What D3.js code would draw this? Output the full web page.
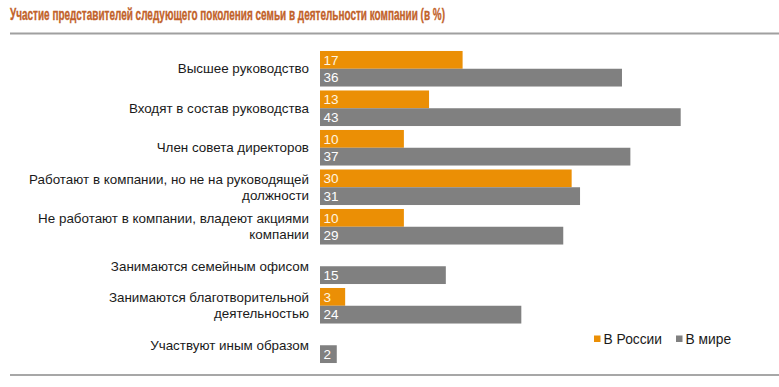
<!DOCTYPE html>
<html><head><meta charset="utf-8">
<script src="https://cdn.jsdelivr.net/npm/d3@7"></script>
<style>
html,body{margin:0;padding:0;background:#fff;}
svg{display:block;}
</style></head>
<body>
<svg id="chart" width="779" height="387"></svg>
<script>
const title = "Участие представителей следующего поколения семьи в деятельности компании (в %)";
const categories = [
  ["Высшее руководство"],
  ["Входят в состав руководства"],
  ["Член совета директоров"],
  ["Работают в компании, но не на руководящей", "должности"],
  ["Не работают в компании, владеют акциями", "компании"],
  ["Занимаются семейным офисом"],
  ["Занимаются благотворительной", "деятельностью"],
  ["Участвуют иным образом"]
];
const seriesNames = ["В России", "В мире"];
const russia = [17, 13, 10, 30, 10, null, 3, null];
const world = [36, 43, 37, 31, 29, 15, 24, 2];
const colors = ["#EB8F05", "#808080"];

const svg = d3.select("#chart");
const keys = categories.map((c, i) => "c" + i);

const x = d3.scaleLinear().domain([0, 43]).range([320, 680.7]);
const y = d3.scaleBand().domain(keys).range([49, 365]).paddingInner(0.1).paddingOuter(0.05);
const ySub = d3.scaleBand().domain([0, 1]).range([0, y.bandwidth()]);

// title
svg.append("text").attr("x", 10).attr("y", 20)
  .attr("font-family", "'Liberation Sans',Arial,sans-serif")
  .attr("font-weight", "bold").attr("font-size", 16.5).attr("fill", "#C2622A")
  .attr("stroke", "#C2622A").attr("stroke-width", 0.35)
  .attr("textLength", 435).attr("lengthAdjust", "spacingAndGlyphs")
  .text(title);
svg.append("line").attr("x1", 10).attr("x2", 779).attr("y1", 33.5).attr("y2", 33.5)
  .attr("stroke", "#a0a0a0").attr("stroke-width", 2);
svg.append("line").attr("x1", 10).attr("x2", 779).attr("y1", 375).attr("y2", 375)
  .attr("stroke", "#8a8a8a").attr("stroke-width", 1.5);

const rows = categories.map((c, i) => ({key: keys[i], label: c, vals: [russia[i], world[i]]}));

const g = svg.append("g");
rows.forEach(r => {
  r.vals.forEach((v, s) => {
    if (v == null) return;
    const y0 = y(r.key) + ySub(s);
    g.append("rect").attr("x", x(0)).attr("y", y0)
      .attr("width", x(v) - x(0)).attr("height", ySub.bandwidth())
      .attr("fill", colors[s]);
    g.append("text").attr("x", x(0) + 3.5).attr("y", y0 + ySub.bandwidth() / 2)
      .attr("dy", "0.36em")
      .attr("font-family", "'Liberation Sans',Arial,sans-serif").attr("font-size", 13.5)
      .attr("fill", s === 0 ? "#FFF6E0" : "#ffffff").text(v);
  });
  const cy = y(r.key) + y.bandwidth() / 2;
  const lh = 16;
  const n = r.label.length;
  r.label.forEach((line, li) => {
    g.append("text").attr("x", 309).attr("y", cy + (li - (n - 1) / 2) * lh)
      .attr("dy", "0.35em").attr("text-anchor", "end")
      .attr("font-family", "'Liberation Sans',Arial,sans-serif").attr("font-size", 13.4)
      .attr("fill", "#1a1a1a").text(line);
  });
});

// legend
const legendX = [594, 676];
seriesNames.forEach((name, s) => {
  svg.append("rect").attr("x", legendX[s]).attr("y", 335.5).attr("width", 6.5).attr("height", 6.5)
    .attr("fill", colors[s]);
  svg.append("text").attr("x", legendX[s] + 9.5).attr("y", 339).attr("dy", "0.35em")
    .attr("font-family", "'Liberation Sans',Arial,sans-serif").attr("font-size", 13.8)
    .attr("fill", "#1a1a1a").text(name);
});
</script>
</body></html>
